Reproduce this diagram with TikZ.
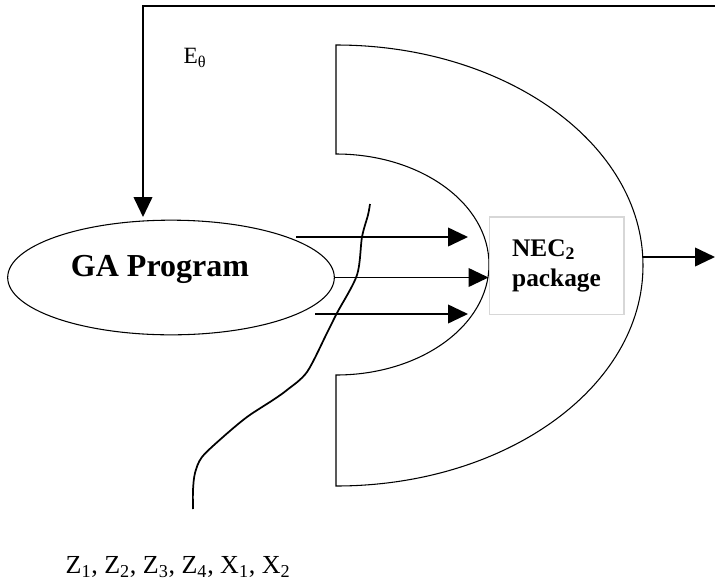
\documentclass[tikz,border=0pt]{standalone}
\usepackage{fontspec}
\setmainfont{Liberation Serif}
\usetikzlibrary{arrows.meta, shapes.geometric}
\definecolor{boxGray}{RGB}{215,215,215}

\begin{document}
\begin{tikzpicture}[x=0.75pt, y=-0.75pt,
    flow/.style={line width=1.4pt, -{Triangle[length=15pt, width=14pt]}},
    thinline/.style={line width=0.8pt}]
  \useasboundingbox (0,0) rectangle (715,583);

  % GA block
  \node[draw, thinline, ellipse, minimum width=245pt, minimum height=86pt, inner sep=0pt] (ga) at (171,277.5) {};
  \node[font=\fontsize{24}{28}\selectfont\bfseries] (galbl) at (160,269.5) {GA Program};

  % feedback loop E_theta
  \coordinate (loopR) at (715,6);
  \coordinate (loopL) at (143,6);
  \coordinate (gaIn) at (143,217);
  \draw[flow] (loopR) -- (loopL) -- (gaIn);
  \node[font=\fontsize{17.5}{20}\selectfont] (etheta) at (195,58) {E\textsubscript{θ}};

  % D-shaped evaluator
  \draw[thinline] (336,45) -- (336,154)
    arc[start angle=-90, end angle=90, x radius=153, y radius=110.5] -- (336,486)
    arc[start angle=90, end angle=-90, x radius=307, y radius=220.5] -- cycle;

  % NEC2 box
  \node[draw=boxGray, line width=1pt, minimum width=101pt, minimum height=73pt, align=left,
        font=\fontsize{19}{22.5}\selectfont\bfseries] (nec) at (556.5,265.5) {NEC\textsubscript{2}\\package};

  % inputs
  \foreach \i/\xs/\y in {1/296/237, 3/315/314} {
    \coordinate (in\i) at (\xs,\y);
    \coordinate (tip\i) at (468,\y);
    \draw[flow] (in\i) -- (tip\i);
  }
  \draw[flow] (ga.east) -- (ga.east -| nec.west);

  % output
  \coordinate (out) at (643,257);
  \coordinate (outEnd) at (715,257);
  \draw[flow] (out) -- (outEnd);

  % cut line
  \draw[line width=1.3pt] plot[smooth] coordinates {(370,204) (368,215) (362,237) (357,275)
    (337,313) (327,333) (307,372) (287,390) (273,400) (247,417) (223,437) (202,457)
    (195,473) (193,490) (193,509)};

  \node[font=\fontsize{19.5}{22}\selectfont] (vars) at (178,567)
    {Z\textsubscript{1}, Z\textsubscript{2}, Z\textsubscript{3}, Z\textsubscript{4}, X\textsubscript{1}, X\textsubscript{2}};
\end{tikzpicture}
\end{document}
